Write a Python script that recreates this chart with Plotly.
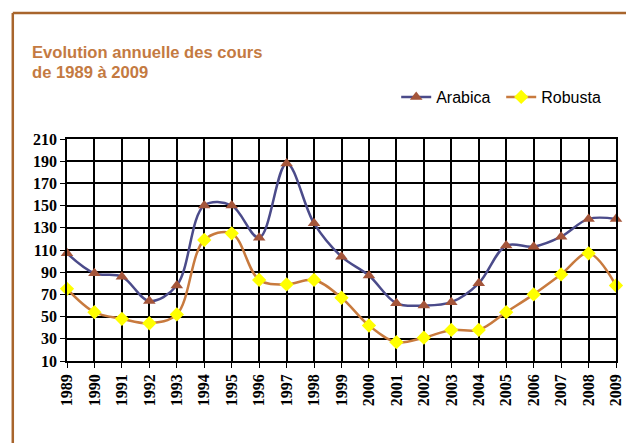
import plotly.graph_objects as go

years = list(range(1989, 2010))
arabica = [107, 89, 86, 64, 78, 150, 150, 121, 188, 134, 104, 87, 62, 60, 63, 80, 114, 113, 122, 138, 138]
robusta = [75, 54, 48, 44, 52, 119, 125, 83, 79, 83, 67, 42, 27, 31, 38, 38, 54, 70, 88, 107, 78]
y_ticks = list(range(10, 211, 20))

# the page body adds an 8px offset; work in page pixels and convert
OFF = 8
W, H = 634 - OFF, 443 - OFF
L, R, T, B = 67 - OFF, 10, 139 - OFF, 82
pw, ph = W - L - R, H - T - B

def px_x(p):
    return (p - OFF - L) / pw

def px_y(p):
    return (H - B - (p - OFF)) / ph

fig = go.Figure()
fig.add_trace(go.Scatter(
    x=years, y=arabica, name="Arabica", mode="lines+markers",
    line=dict(color="#4B4B8A", width=2.5, shape="spline", smoothing=1),
    marker=dict(symbol="triangle-up", size=11, color="#A4553A"),
    cliponaxis=False,
))
fig.add_trace(go.Scatter(
    x=years, y=robusta, name="Robusta", mode="lines+markers",
    line=dict(color="#C87A3E", width=2.5, shape="spline", smoothing=1),
    marker=dict(symbol="diamond", size=11, color="#FFFF00"),
    cliponaxis=False,
))

tickfont = dict(family="Liberation Serif", size=16, color="black", weight="bold")
fig.update_xaxes(
    range=[1989, 2009], tickmode="array", tickvals=years, ticktext=[str(y) for y in years],
    tickangle=-90, tickfont=tickfont, showgrid=True, gridcolor="black", gridwidth=1.7,
    showline=True, linecolor="black", linewidth=1.7, mirror=True,
    ticks="outside", ticklen=5, tickcolor="black", zeroline=False,
)
fig.update_yaxes(
    range=[10, 210], tickmode="array", tickvals=y_ticks, tickfont=tickfont,
    showgrid=True, gridcolor="black", gridwidth=1.7,
    showline=True, linecolor="black", linewidth=1.7, mirror=True,
    ticks="outside", ticklen=5, tickcolor="black", zeroline=False,
)

frame = "#A8652C"
fig.add_shape(type="line", xref="paper", yref="paper",
              x0=px_x(12), x1=px_x(700), y0=px_y(13), y1=px_y(13),
              line=dict(color=frame, width=2.5))
fig.add_shape(type="line", xref="paper", yref="paper",
              x0=px_x(12), x1=px_x(12), y0=px_y(13), y1=px_y(500),
              line=dict(color=frame, width=2.5))

title_color = "#C47A42"
fig.add_annotation(xref="paper", yref="paper", x=px_x(29), y=px_y(52),
                   xanchor="left", yanchor="middle", showarrow=False,
                   text="Evolution annuelle des cours",
                   font=dict(family="Liberation Sans", size=16.6, color=title_color, weight="bold"))
fig.add_annotation(xref="paper", yref="paper", x=px_x(29), y=px_y(73),
                   xanchor="left", yanchor="middle", showarrow=False,
                   text="de 1989 à 2009",
                   font=dict(family="Liberation Sans", size=16.6, color=title_color, weight="bold"))

fig.update_layout(
    width=W, height=H,
    margin=dict(l=L, r=R, t=T, b=B),
    paper_bgcolor="white", plot_bgcolor="white",
    showlegend=True,
    legend=dict(orientation="h", x=px_x(401), y=px_y(97), xanchor="left", yanchor="middle",
                font=dict(family="Liberation Sans", size=16, color="black"),
                bgcolor="rgba(0,0,0,0)", entrywidth=60, entrywidthmode="pixels",
                tracegroupgap=0),
)

fig.write_html("out.html")
